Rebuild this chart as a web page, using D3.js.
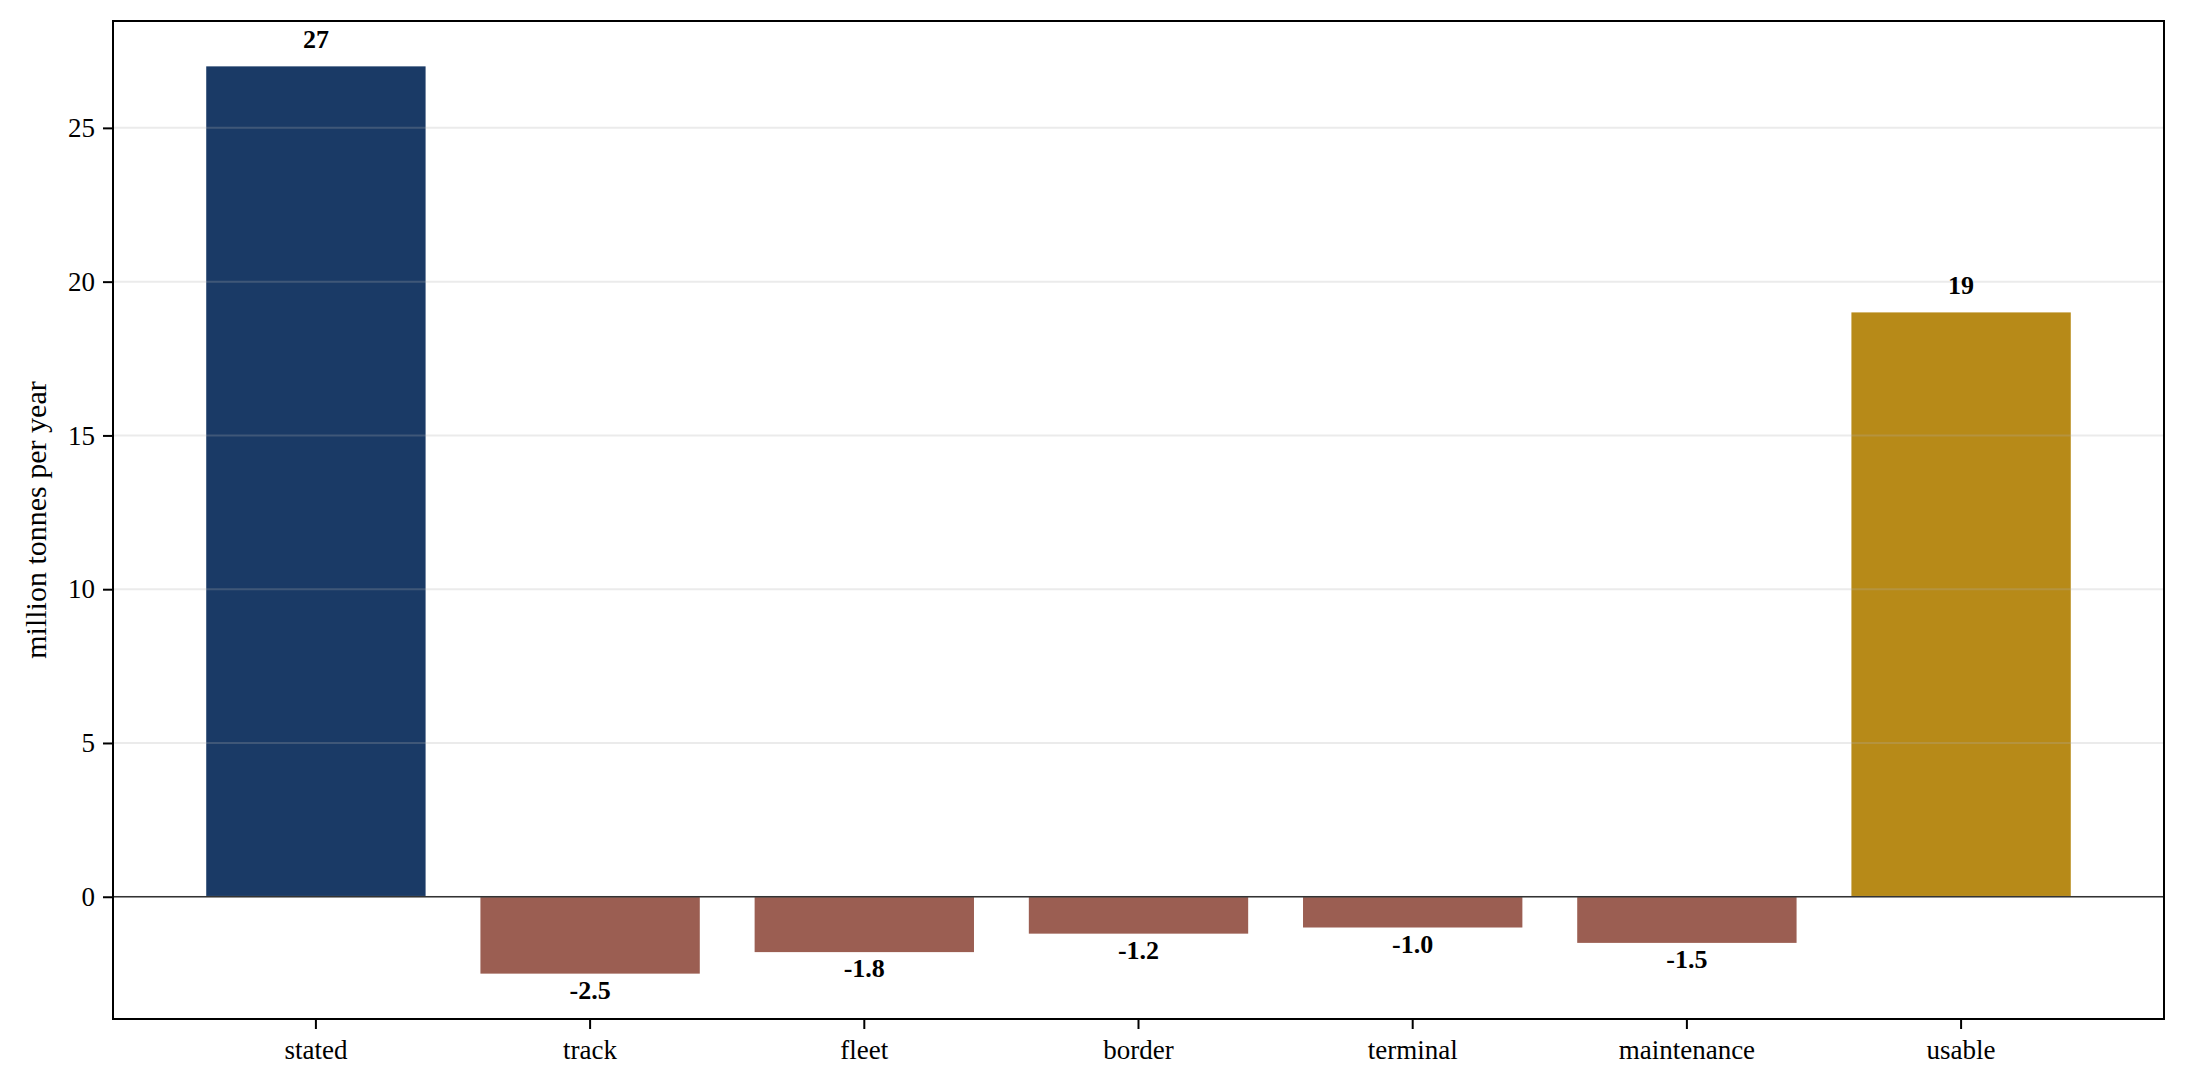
<!DOCTYPE html>
<html>
<head>
<meta charset="utf-8">
<script src="https://cdn.jsdelivr.net/npm/d3@7"></script>
<style>
  html, body { margin: 0; padding: 0; background: #fff; }
  svg { display: block; font-family: "Liberation Serif", "Times New Roman", serif; }
</style>
</head>
<body>
<svg id="chart" width="2185" height="1088"></svg>
<script>
// chart data
const categories = ["stated", "track", "fleet", "border", "terminal", "maintenance", "usable"];
const values = [27, -2.5, -1.8, -1.2, -1.0, -1.5, 19];
const valueLabels = ["27", "-2.5", "-1.8", "-1.2", "-1.0", "-1.5", "19"];
const yTicks = [0, 5, 10, 15, 20, 25];

const svg = d3.select("#chart");
const margin = { left: 113, right: 21, top: 21, bottom: 69 };
const W = 2185, H = 1088;

// matplotlib-like auto margins (5%)
const yMin = d3.min(values), yMax = d3.max(values);
const pad = (yMax - yMin) * 0.05;

const x = d3.scaleBand()
  .domain(categories)
  .range([margin.left, W - margin.right])
  .paddingInner(0.2)
  .paddingOuter(0.34);

const y = d3.scaleLinear()
  .domain([yMin - pad, yMax + pad])
  .range([H - margin.bottom, margin.top]);

const colorFor = (d, i) => i === 0 ? "#1a3a66" : (i === categories.length - 1 ? "#b78a18" : "#9b5e52");

// bars
svg.append("g").selectAll("rect")
  .data(values)
  .join("rect")
  .attr("x", (d, i) => x(categories[i]))
  .attr("width", x.bandwidth())
  .attr("y", d => y(Math.max(0, d)))
  .attr("height", d => Math.abs(y(d) - y(0)))
  .attr("fill", colorFor);

// grid lines (drawn over bars, translucent)
svg.append("g").selectAll("line")
  .data(yTicks)
  .join("line")
  .attr("x1", margin.left).attr("x2", W - margin.right)
  .attr("y1", d => y(d)).attr("y2", d => y(d))
  .attr("stroke", "#b0b0b0")
  .attr("stroke-opacity", 0.25)
  .attr("stroke-width", 2);

// zero line
svg.append("line")
  .attr("x1", margin.left).attr("x2", W - margin.right)
  .attr("y1", y(0)).attr("y2", y(0))
  .attr("stroke", "#333")
  .attr("stroke-width", 1.6);

// value labels
svg.append("g").selectAll("text")
  .data(values)
  .join("text")
  .attr("x", (d, i) => x(categories[i]) + x.bandwidth() / 2)
  .attr("y", d => d >= 0 ? y(d) - 18 : y(d) + 25)
  .attr("text-anchor", "middle")
  .attr("font-weight", "bold")
  .attr("font-size", 26)
  .attr("fill", "#000")
  .text((d, i) => valueLabels[i]);

// axes
const yAxis = d3.axisLeft(y).tickValues(yTicks).tickSize(10).tickPadding(8).tickFormat(d3.format("d"));
const gy = svg.append("g").attr("transform", `translate(${margin.left},0)`).call(yAxis);
gy.select(".domain").remove();
gy.selectAll("line").attr("stroke", "#000").attr("stroke-width", 2);
gy.selectAll("text").attr("font-size", 27).attr("fill", "#000").style("font-family", "Liberation Serif");

const xAxis = d3.axisBottom(x).tickSize(10).tickPadding(11);
const gx = svg.append("g").attr("transform", `translate(0,${H - margin.bottom})`).call(xAxis);
gx.select(".domain").remove();
gx.selectAll("line").attr("stroke", "#000").attr("stroke-width", 2);
gx.selectAll("text").attr("font-size", 27).attr("fill", "#000").style("font-family", "Liberation Serif");

// frame
svg.append("rect")
  .attr("x", margin.left).attr("y", margin.top)
  .attr("width", W - margin.left - margin.right)
  .attr("height", H - margin.top - margin.bottom)
  .attr("fill", "none")
  .attr("stroke", "#000")
  .attr("stroke-width", 2);

// y label
svg.append("text")
  .attr("transform", `translate(46,${(margin.top + H - margin.bottom) / 2}) rotate(-90)`)
  .attr("text-anchor", "middle")
  .attr("font-size", 30)
  .attr("fill", "#000")
  .text("million tonnes per year");
</script>
</body>
</html>
